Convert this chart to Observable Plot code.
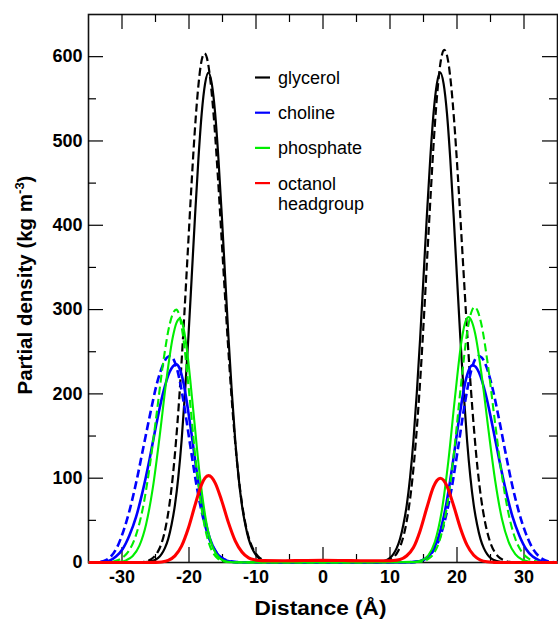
<!DOCTYPE html>
<html><head><meta charset="utf-8">
<script src="https://cdn.jsdelivr.net/npm/d3@7"></script>
<script src="https://cdn.jsdelivr.net/npm/@observablehq/plot@0.6"></script>
<style>
html,body{margin:0;padding:0;background:#fff;}
#chart{width:558px;height:619px;position:relative;}
</style></head><body><div id="chart"></div>
<script>
// ---- data ----
const glycerolSolidX = [-35,-27.1,-26.1,-25.1,-24.6,-24.1,-23.6,-23.1,-22.6,-22.1,-21.6,-21.1,-20.6,-20.1,-19.6,-19.1,-18.6,-18.1,-17.6,-17.1,-16.6,-16.1,-15.6,-15.1,-14.6,-14.1,-13.6,-13.1,-12.6,-12.1,-11.6,-11.1,-10.6,-10.1,-9.6,-9.1,-8.1,-7.1,0,7.5,8.5,9.5,10,10.5,11,11.5,12,12.5,13,13.5,14,14.5,15,15.5,16,16.5,17,17.5,18,18.5,19,19.5,20,20.5,21,21.5,22,22.5,23,23.5,24,24.5,25,25.5,26.5,27.5,35];
const glycerolSolidY = [0,0.2,0.8,3,5.5,10,17,28,45,68,101,145,201,266,338,411,478,533,568,581,568,533,478,411,338,266,201,145,101,68,45,28,17,10,5.5,3,0.8,0.2,0,0.2,0.8,3,5.5,10,17,28,45,68,101,145,201,266,338,411,478,533,568,581,568,533,478,411,338,266,201,145,101,68,45,28,17,10,5.5,3,0.8,0.2,0];

const glycerolDashedX = [-35,-27.7,-26.7,-25.7,-25.2,-24.7,-24.2,-23.7,-23.2,-22.7,-22.2,-21.7,-21.2,-20.7,-20.2,-19.7,-19.2,-18.7,-18.2,-17.7,-17.2,-16.7,-16.2,-15.7,-15.2,-14.7,-14.2,-13.7,-13.2,-12.7,-12.2,-11.7,-11.2,-10.7,-10.2,-9.7,-8.7,-7.7,-6.7,0,8.1,9.1,10.1,10.6,11.1,11.6,12.1,12.6,13.1,13.6,14.1,14.6,15.1,15.6,16.1,16.6,17.1,17.6,18.1,18.6,19.1,19.6,20.1,20.6,21.1,21.6,22.1,22.6,23.1,23.6,24.1,24.6,25.1,25.6,26.1,27.1,28.1,35];
const glycerolDashedY = [0,0.2,0.9,3.6,6.7,12,20.5,34,54,82,120,168,226,294,366,438,504,557,592,604,594,564,518,459,393,326,261,202,151,109,76,51,33,21,12.7,7.5,2.4,0.6,0.15,0,0.2,0.9,3.6,6.7,12,20.7,34,54,82,120,169,228,296,369,441,508,561,596,608,598,568,521,462,396,328,262,203,152,109,76,51.5,33.5,21,12.8,7.5,2.4,0.6,0];

const cholineSolidX = [-35,-32.9,-31.9,-30.9,-29.9,-28.9,-27.9,-26.9,-25.9,-24.9,-23.9,-22.9,-22.4,-21.9,-21.4,-20.9,-19.9,-18.9,-17.9,-16.9,-15.9,-14.9,-13.9,-12.9,0,13.3,14.3,15.3,16.3,17.3,18.3,19.3,20.3,21.3,21.8,22.3,22.8,23.3,24.3,25.3,26.3,27.3,28.3,29.3,30.3,31.3,32.3,33.3,35];
const cholineSolidY = [0,0.5,2,7,16,32,54,85,122,163,200,226,232.6,235,230,216,168,111,62,29,11.7,4,1.1,0.3,0,0.35,1.4,4.6,13,32,65,114,170,216,229,234,232,225,199,162,122,85,54,32,16,7,2.5,0.6,0];

const cholineDashedX = [-35,-33.8,-32.8,-31.8,-30.8,-29.8,-28.8,-27.8,-26.8,-25.8,-24.8,-23.8,-23.3,-22.8,-22.3,-21.8,-20.8,-19.8,-18.8,-17.8,-16.8,-15.8,-14.8,-13.8,-12.8,0,13.2,14.2,15.2,16.2,17.2,18.2,19.2,20.2,21.2,22.2,22.7,23.2,23.7,24.2,25.2,26.2,27.2,28.2,29.2,30.2,31.2,32.2,33.2,34.2,35];
const cholineDashedY = [0,0.3,1.5,6,17,37,64,98,137,176,212,236,243,245,241,230,190,138,88,50,24.7,10.8,4.1,1.4,0.4,0,0.4,1.4,4.1,10.8,24.7,50,88,138,190,230,241,245,243,236,210,173,132,93,61,36,18,7.5,2.5,0.5,0];

const phosphateSolidX = [-35,-30.4,-29.4,-28.4,-27.4,-26.4,-25.4,-24.4,-23.4,-22.4,-21.9,-21.4,-20.9,-20.4,-19.4,-18.4,-17.4,-16.4,-15.4,-14.4,-13.4,0,13.7,14.7,15.7,16.7,17.7,18.7,19.7,20.7,21.2,21.7,22.2,22.7,23.7,24.7,25.7,26.7,27.7,28.7,29.7,30.7,31.7,35];
const phosphateSolidY = [0,0.7,2.5,7.7,20,45.5,88.5,148.5,215,268,283.7,289,281,258,183.5,104,47,17,4.9,1.1,0.2,0,0.5,2.3,8.3,24.6,60,119.6,196,264,284,291,286,272,221,157,97,52,24.6,10,3.6,1.1,0.3,0];

const phosphateDashedX = [-35,-31.9,-30.9,-29.9,-28.9,-27.9,-26.9,-25.9,-24.9,-23.9,-22.9,-22.4,-21.9,-21.4,-20.9,-19.9,-18.9,-17.9,-16.9,-15.9,-14.9,-13.9,0,14.6,15.6,16.6,17.6,18.6,19.6,20.6,21.6,22.1,22.6,23.1,23.6,24.6,25.6,26.6,27.6,28.6,29.6,30.6,31.6,32.6,35];
const phosphateDashedY = [0,0.6,2,5.9,14.7,32.7,64,112,172,234.5,282,295.4,300,292,269,195,113,53,20,6.1,1.5,0.3,0,0.9,3.6,11.6,31.5,71,134,211,277,296,303,298,284,235,171,109,61.5,30.5,13.3,5.1,1.7,0.5,0];

const octanolX = [-35,-26.1,-25.1,-24.1,-23.1,-22.1,-21.1,-20.1,-19.1,-18.1,-17.6,-17.1,-16.6,-16.1,-15.1,-14.1,-13.1,-12.1,-11.1,-10.1,-9.1,-6,-3,0,3,6,9.5,10.5,11.5,12.5,13.5,14.5,15.5,16.5,17,17.5,18,18.5,19.5,20.5,21.5,22.5,23.5,24.5,25.5,26.5,35];
const octanolY = [0,0,0.15,0.65,2.5,7.8,19.7,40.6,68,93,100.4,103,100.8,94.5,72.8,47,25.7,12.5,5.5,3,2.2,2,2.3,2.5,2.3,2,2,2.3,3.5,8,17.7,37.8,65,90,97.3,100,97.6,90.6,67.4,41,20.6,8.5,2.9,0.8,0.2,0,0];

const xMajorTicks = [-30,-20,-10,0,10,20,30];
const xMinorTicks = [-25,-15,-5,5,15,25];
const yMajorTicks = [0,100,200,300,400,500,600];
const yMinorTicks = [50,150,250,350,450,550];
const legendLabels = [["glycerol"],["choline"],["phosphate"],["octanol","headgroup"]];
const legendColors = ["#000000","#0000ff","#00ee00","#ff0000"];
const xTitle = "Distance (Å)";
const yTitle = "Partial density (kg m";
const yTitleSup = "-3";

// ---- drawing ----
const W = 558, H = 619, mL = 88, mR = 1, mT = 14, mB = 57;
const pw = W - mL - mR, ph = H - mT - mB;
const rows = (xs, ys) => xs.map((x, i) => ({x, y: ys[i]}));
const series = [
  {xs: glycerolSolidX, ys: glycerolSolidY, color: legendColors[0], w: 2.2, dash: false},
  {xs: glycerolDashedX, ys: glycerolDashedY, color: legendColors[0], w: 2.2, dash: true},
  {xs: cholineSolidX, ys: cholineSolidY, color: legendColors[1], w: 2.6, dash: false},
  {xs: cholineDashedX, ys: cholineDashedY, color: legendColors[1], w: 2.6, dash: true},
  {xs: phosphateSolidX, ys: phosphateSolidY, color: legendColors[2], w: 2.1, dash: false},
  {xs: phosphateDashedX, ys: phosphateDashedY, color: legendColors[2], w: 2.1, dash: true},
  {xs: octanolX, ys: octanolY, color: legendColors[3], w: 3.1, dash: false}
];
const font = "'Liberation Sans', Arial, Helvetica, sans-serif";
const tickStyle = {stroke: "#000", strokeWidth: 1.2};

const chart = Plot.plot({
  width: W, height: H,
  marginLeft: mL, marginRight: mR, marginTop: mT, marginBottom: mB,
  style: {fontFamily: font, background: "#fff", color: "#000"},
  x: {domain: [-35, 35], label: null},
  y: {domain: [0, 650], label: null},
  marks: [
    Plot.frame({stroke: "#111", strokeWidth: 1.6}),
    Plot.tickY(yMajorTicks, {y: d => d, insetRight: pw - 15, ...tickStyle}),
    Plot.tickY(yMajorTicks, {y: d => d, insetLeft: pw - 15, ...tickStyle}),
    Plot.tickY(yMinorTicks, {y: d => d, insetRight: pw - 8, ...tickStyle}),
    Plot.tickY(yMinorTicks, {y: d => d, insetLeft: pw - 8, ...tickStyle}),
    Plot.tickX(xMajorTicks, {x: d => d, insetTop: ph - 15, ...tickStyle}),
    Plot.tickX(xMajorTicks, {x: d => d, insetBottom: ph - 15, ...tickStyle}),
    Plot.tickX(xMinorTicks, {x: d => d, insetTop: ph - 8, ...tickStyle}),
    Plot.tickX(xMinorTicks, {x: d => d, insetBottom: ph - 8, ...tickStyle}),
    ...series.map(s => Plot.line(rows(s.xs, s.ys), {
      x: "x", y: "y", stroke: s.color, strokeWidth: s.w, curve: "monotone-x",
      strokeLinejoin: "round", strokeLinecap: "butt",
      ...(s.dash ? {strokeDasharray: "8,4"} : {})
    })),
    Plot.axisX({ticks: xMajorTicks, tickSize: 0, tickPadding: 8, tickFormat: d => String(d),
      fontSize: 18, fontWeight: "bold", label: null}),
    Plot.axisY({ticks: yMajorTicks, tickSize: 0, tickPadding: 6, tickFormat: d => String(d),
      fontSize: 18, fontWeight: "bold", label: null})
  ]
});
document.getElementById("chart").appendChild(chart);

// titles and legend as real SVG text
const svg = d3.select(chart);
svg.append("text")
  .attr("x", 320.5).attr("y", 615)
  .attr("text-anchor", "middle")
  .attr("font-family", font).attr("font-weight", "bold").attr("font-size", 19.5)
  .attr("textLength", 132).attr("lengthAdjust", "spacingAndGlyphs")
  .attr("fill", "#000")
  .text(xTitle);

const yt = svg.append("text")
  .attr("transform", "translate(32,285) rotate(-90)")
  .attr("text-anchor", "middle")
  .attr("font-family", font).attr("font-weight", "bold").attr("font-size", 20.5)
  .attr("fill", "#000");
yt.append("tspan").text(yTitle);
yt.append("tspan").attr("font-size", 13).attr("dy", -8).text(yTitleSup);
yt.append("tspan").attr("dy", 8).text(")");

const lg = svg.append("g").attr("font-family", font).attr("font-size", 18)
  .attr("fill", "#000").attr("text-anchor", "start");
const legendTop = 77.5, legendStep = 35.2, lineGap = 20.5;
legendLabels.forEach((lines, i) => {
  const yy = legendTop + i * legendStep;
  lg.append("line").attr("x1", 255).attr("x2", 270).attr("y1", yy).attr("y2", yy)
    .attr("stroke", legendColors[i]).attr("stroke-width", 2.2);
  lines.forEach((t, j) => {
    lg.append("text").attr("x", 278).attr("y", yy + 6.4 + j * lineGap)
      .attr("text-anchor", "start").text(t);
  });
});
</script>
</body></html>
